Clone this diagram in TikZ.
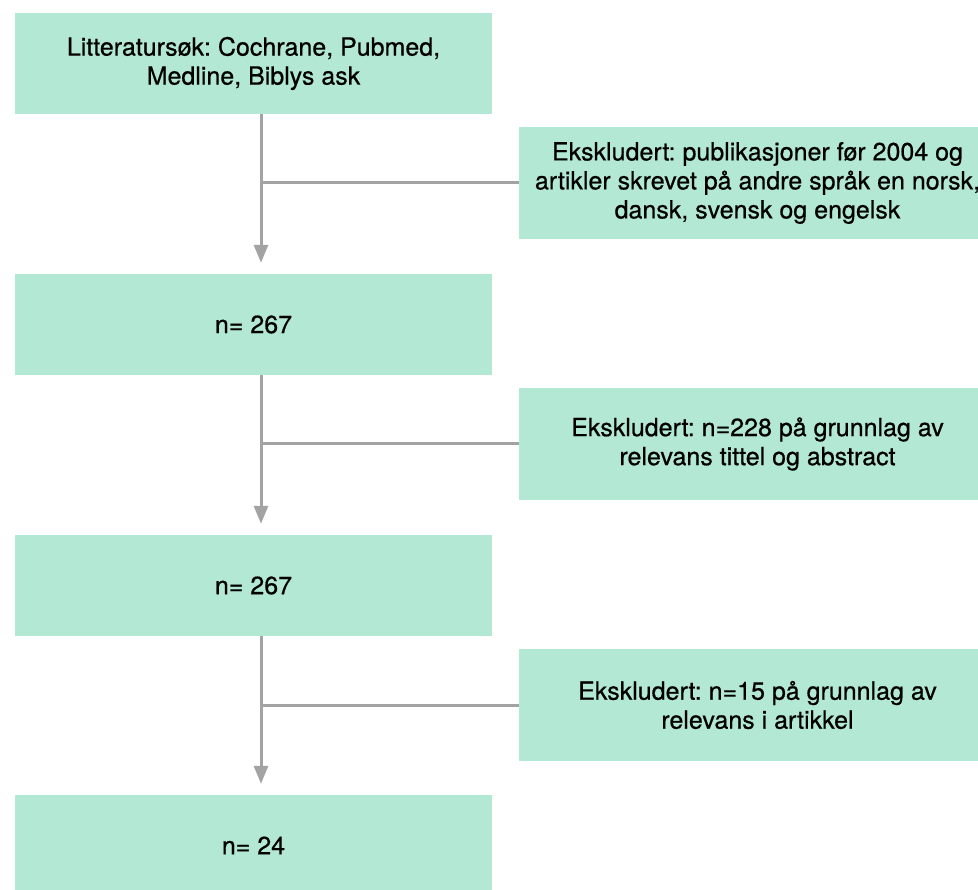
\documentclass[tikz,border=0pt]{standalone}
\usepackage{fontspec}
\setmainfont{TeX Gyre Heros}[FakeBold=0.6]
\usetikzlibrary{arrows.meta}
\definecolor{mint}{RGB}{179,232,213}
\definecolor{linegray}{RGB}{163,163,163}
\frenchspacing
\begin{document}
\begin{tikzpicture}[x=1pt,y=1pt,yscale=-1,xscale=1,
    stepbox/.style={fill=mint, minimum width=477pt, inner sep=0pt, align=center, font=\fontsize{25}{29}\selectfont},
    mainbox/.style={stepbox, minimum height=101pt},
    exclbox/.style={stepbox, minimum height=112pt},
    flow/.style={draw=linegray, line width=3pt, -{Triangle[width=14pt,length=18pt]}, shorten >=11pt},
    branch/.style={draw=linegray, line width=3pt}]
    \useasboundingbox (0,0) rectangle (978,890);
    \clip (0,0) rectangle (978,890);

    % Text Node
    \node [mainbox] (search) at (253.5,63.5) {Litteratursøk: Cochrane, Pubmed,\\Medline, Biblys ask};
    \node [mainbox] (hits) at (253.5,324.5) {n= 267};
    \node [mainbox] (screened) at (253.5,585.5) {n= 267};
    \node [mainbox] (included) at (253.5,845.5) {n= 24};
    % Text Node
    \node [exclbox] (exclA) at (757.5,183) {Ekskludert: publikasjoner før 2004 og\\artikler skrevet på andre språk en norsk,\\dansk, svensk og engelsk};
    \node [exclbox] (exclB) at (757.5,444) {Ekskludert: n=228 på grunnlag av\\relevans tittel og abstract};
    \node [exclbox] (exclC) at (757.5,705) {Ekskludert: n=15 på grunnlag av\\relevans i artikkel};

    % Connection
    \draw [flow] ([xshift=7.5pt]search.south) -- ([xshift=7.5pt]hits.north);
    \draw [flow] ([xshift=7.5pt]hits.south) -- ([xshift=7.5pt]screened.north);
    \draw [flow] ([xshift=7.5pt]screened.south) -- ([xshift=7.5pt]included.north);
    % Connection
    \draw [branch] ([xshift=7.5pt]search.south |- exclA.west) -- (exclA.west);
    \draw [branch] ([xshift=7.5pt]hits.south |- exclB.west) -- (exclB.west);
    \draw [branch] ([xshift=7.5pt]screened.south |- exclC.west) -- (exclC.west);

\end{tikzpicture}
\end{document}
